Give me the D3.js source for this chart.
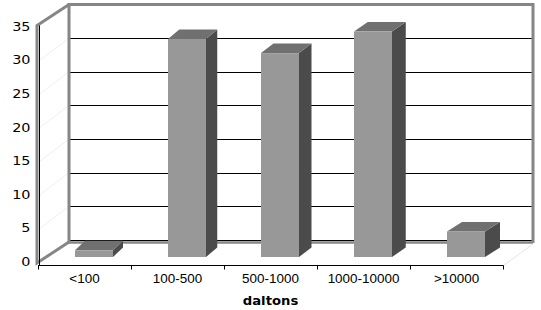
<!DOCTYPE html>
<html>
<head>
<meta charset="utf-8">
<script src="https://cdn.jsdelivr.net/npm/d3@7"></script>
<style>
  html, body { margin: 0; padding: 0; background: #fff; }
  svg { display: block; }
</style>
</head>
<body>
<svg id="chart" width="541" height="310"></svg>
<script>
const categories = ["<100", "100-500", "500-1000", "1000-10000", ">10000"];
const values = [1.0, 32.4, 30.3, 33.5, 3.8];
const yTicks = [0, 5, 10, 15, 20, 25, 30, 35];
const xTitle = "daltons";

const svg = d3.select("#chart");
const x = d3.scaleBand().domain(categories).range([38, 503]).padding(0);
const y = d3.scaleLinear().domain([0, 35]).range([262, 26.5]);

const DX = 31, DY = -22;          // wall depth
const BX = 9.5, BY = -5;          // bar placement inside depth
const barW = 38;
const wallLeft = x.range()[0] + DX;
const wallRight = 533;
const wallGray = "#868686";

// left wall faint diagonals
svg.append("g").selectAll("line").data(yTicks.filter(d => d > 0 && d < 35)).join("line")
  .attr("x1", 40).attr("y1", d => y(d))
  .attr("x2", wallLeft).attr("y2", d => y(d) + DY)
  .attr("stroke", "#f0f0f0").attr("stroke-width", 1);

// back wall gridlines
svg.append("g").selectAll("line").data(yTicks.filter(d => d < 35)).join("line")
  .attr("x1", wallLeft).attr("x2", wallRight - 1)
  .attr("y1", d => Math.round(y(d) + DY) + 0.5).attr("y2", d => Math.round(y(d) + DY) + 0.5)
  .attr("stroke", "#000").attr("stroke-width", 1);

// back wall border
const yTop = y(35) + DY, yBot = y(0) + DY;
svg.append("path")
  .attr("d", `M${wallLeft},${yBot + 2.5} L${wallLeft},${yTop} L${wallRight},${yTop} L${wallRight},${yBot + 3}`)
  .attr("fill", "none").attr("stroke", wallGray).attr("stroke-width", 3);
svg.append("line")
  .attr("x1", wallLeft).attr("x2", wallRight)
  .attr("y1", yBot + 2.5).attr("y2", yBot + 2.5)
  .attr("stroke", wallGray).attr("stroke-width", 2.5);

// floor right edge (faint)
svg.append("line")
  .attr("x1", wallRight).attr("y1", yBot + 4)
  .attr("x2", x.range()[1]).attr("y2", y(0) + 4)
  .attr("stroke", "#e4e4e4").attr("stroke-width", 1);

// left wall edges
svg.append("path")
  .attr("d", `M${wallLeft},${yTop} L37,${y(35) - 1} L37,${y(0) + 1} L${wallLeft},${yBot + 2}`)
  .attr("fill", "none").attr("stroke", wallGray).attr("stroke-width", 3)
  .attr("stroke-linejoin", "miter");

// front y axis line
svg.append("line")
  .attr("x1", 39.5).attr("x2", 39.5)
  .attr("y1", y(35) - 1).attr("y2", y(0) + 3.5)
  .attr("stroke", "#000").attr("stroke-width", 1);

// x axis line & ticks
const xAxisY = 265.5;
svg.append("line")
  .attr("x1", 38).attr("x2", x.range()[1] + 0.5)
  .attr("y1", xAxisY).attr("y2", xAxisY)
  .attr("stroke", "#000").attr("stroke-width", 1);
const edges = categories.map(c => x(c)).concat([x.range()[1]]);
svg.append("g").selectAll("line").data(edges).join("line")
  .attr("x1", d => Math.round(d) + 0.5).attr("x2", d => Math.round(d) + 0.5)
  .attr("y1", xAxisY).attr("y2", xAxisY + 4)
  .attr("stroke", "#000").attr("stroke-width", 1);

// bars
const data = categories.map((c, i) => ({ c, v: values[i] }));
const firstC = x(categories[0]) + x.bandwidth() / 2 + BX;
const lastC = x(categories[categories.length - 1]) + x.bandwidth() / 2 + BX;
const bars = svg.append("g").selectAll("g").data(data).join("g");
bars.each(function (d) {
  const g = d3.select(this);
  const cx = x(d.c) + x.bandwidth() / 2 + BX;
  const x0 = cx - barW / 2, x1 = cx + barW / 2;
  const yb = y(0) + BY, yt = y(d.v) + BY;
  const dx = 10 + (cx - firstC) * 5 / (lastC - firstC);
  const dy = -9.5;
  g.append("path")
    .attr("d", `M${x1},${yt} L${x1 + dx},${yt + dy} L${x1 + dx},${yb + dy} L${x1},${yb} Z`)
    .attr("fill", "#4b4b4b");
  g.append("path")
    .attr("d", `M${x0},${yt} L${x0 + dx},${yt + dy} L${x1 + dx},${yt + dy} L${x1},${yt} Z`)
    .attr("fill", "#707070");
  g.append("rect")
    .attr("x", x0).attr("y", yt).attr("width", barW).attr("height", yb - yt)
    .attr("fill", "#989898");
});

// y labels
svg.append("g").selectAll("text").data(yTicks).join("text")
  .attr("transform", d => `translate(30.5,${y(d)}) scale(1.2,1)`)
  .attr("text-anchor", "end").attr("dominant-baseline", "central")
  .attr("font-family", "DejaVu Sans").attr("font-size", 12)
  .attr("fill", "#000")
  .text(d => d);

// category labels
svg.append("g").selectAll("text").data(categories).join("text")
  .attr("transform", d => `translate(${x(d) + x.bandwidth() / 2},283) scale(1.12,1)`)
  .attr("text-anchor", "middle")
  .attr("font-family", "Liberation Sans").attr("font-size", 12)
  .attr("fill", "#000")
  .text(d => d);

// x title
svg.append("text")
  .attr("transform", `translate(270.5,305) scale(1.1,1)`)
  .attr("text-anchor", "middle")
  .attr("font-family", "DejaVu Sans").attr("font-weight", "bold").attr("font-size", 12)
  .attr("fill", "#000")
  .text(xTitle);
</script>
</body>
</html>
